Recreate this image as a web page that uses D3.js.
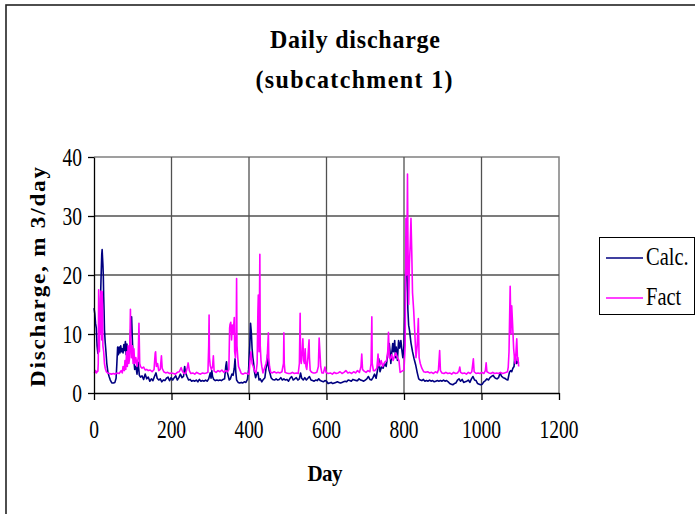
<!DOCTYPE html>
<html><head><meta charset="utf-8">
<script src="https://cdn.jsdelivr.net/npm/d3@7"></script>
<style>
body{margin:0;background:#fff}
svg{display:block}
text{font-family:"Liberation Serif","Times New Roman",serif;fill:#000}
</style>
</head><body>
<svg id="c" width="695" height="514"></svg>
<script>
const titleLines = ["Daily discharge", "(subcatchment 1)"];
const xTitle = "Day";
const yTitle = "Discharge, m 3/day";
const seriesNames = ["Calc.", "Fact"];
const seriesColors = ["#000080", "#FF00FF"];
const xTicks = [0, 200, 400, 600, 800, 1000, 1200];
const yTicks = [0, 10, 20, 30, 40];

// [day, discharge]
const calc = [[0,14.4],[2,13.5],[4,11.8],[6,11],[8,8],[10,6.7],[12,8],[14,12],[16,14],[18,19],[20,23.5],[21,24.3],[22,23],[23,21.7],[24,20],[25,16.3],[26,14],[27,10.7],[29,8.5],[31,6.9],[33,5],[36,3.5],[39,2.8],[42,2.2],[46,1.7],[50,1.7],[54,1.8],[57,2.5],[59,5],[61,7.8],[63,6.5],[65,7.8],[67,6.8],[69,8],[71,7],[73,7.5],[75,6.8],[77,8.2],[79,7.2],[81,8.7],[83,6.5],[85,8.3],[87,7],[89,6],[91,6.5],[93,8.5],[95,11],[97,12.9],[99,9],[101,6],[103,5.5],[105,4],[108,4.5],[111,3.2],[114,5.2],[117,3],[120,2.7],[124,2.9],[128,2.3],[132,3.2],[136,2.4],[140,2.7],[144,2],[148,2.4],[152,2.1],[156,2.8],[160,3.4],[163,2.5],[167,2.2],[171,2.4],[175,1.9],[179,2.2],[183,2.1],[187,2.5],[191,2.7],[195,2.1],[199,2.6],[203,2.2],[207,2.6],[211,2.9],[215,2.2],[219,2.6],[223,3.2],[227,2.6],[231,2.8],[234,4.5],[236,3.5],[240,2.8],[244,2.2],[248,2.3],[252,2],[256,2.1],[260,2],[264,2.2],[268,1.9],[272,2.3],[276,2],[280,2.1],[284,2],[288,2.2],[292,2],[296,2.4],[300,3.4],[302,2.5],[304,3.8],[306,2.8],[309,2.3],[313,2.1],[317,2.2],[321,2.1],[325,2.2],[329,2.1],[333,2.3],[337,2.4],[340,4.5],[342,5.3],[344,3.5],[346,3],[349,2.2],[352,2.4],[356,3.2],[359,3],[362,4.2],[364,5.8],[366,3.5],[368,2.2],[372,1.8],[376,1.7],[380,1.8],[384,1.7],[388,1.9],[392,1.8],[396,2.3],[399,4],[402,8],[404,11.8],[406,10.3],[408,7.5],[410,6],[412,5],[414,3.6],[417,2.6],[420,3.2],[423,3.5],[426,2.2],[429,2.4],[433,1.9],[437,2.3],[441,2.6],[444,4.2],[446,4.7],[448,6.5],[450,4.8],[452,3.8],[454,3.4],[457,2.6],[461,2.3],[466,2.2],[470,2.4],[474,2.2],[478,2.3],[482,2.6],[486,2.2],[490,2.4],[494,2.2],[498,2.3],[502,2],[506,2.5],[510,2.8],[514,2.2],[518,2.4],[522,2.6],[526,2.2],[530,2.4],[533,3.4],[536,2.5],[540,2.2],[544,2.6],[548,2.2],[552,2.5],[556,2.8],[560,2.2],[564,2.1],[568,2],[572,2.2],[576,2.1],[580,2.4],[584,2.1],[588,2],[592,1.9],[596,2.1],[600,2],[604,1.6],[608,1.7],[612,1.8],[616,1.6],[620,1.7],[624,1.8],[628,1.9],[632,1.8],[636,1.7],[640,1.8],[644,1.9],[648,2],[652,1.9],[656,2.2],[660,2.1],[664,2],[668,2.3],[672,2.2],[676,2.1],[680,2.1],[684,2.4],[688,2.2],[692,2.1],[696,2],[700,2.2],[704,2.4],[708,2.8],[712,2.3],[716,2.2],[720,2.6],[724,3.2],[728,2.5],[732,4],[735,5.8],[738,3.6],[742,4.4],[746,4.2],[750,5],[754,4.5],[757,6],[760,7.5],[762,8.4],[764,7],[766,5],[768,6.5],[771,8.4],[773,7],[776,8.9],[778,6],[780,7.8],[783,5.5],[786,8.9],[789,7.6],[792,8.9],[795,7],[797,6],[800,8],[802,13],[804,20],[806,23.1],[808,19.8],[810,14.1],[812,11.5],[814,10.7],[818,8.5],[822,7],[826,5.8],[830,4.8],[834,3.5],[838,2.4],[842,2.2],[846,2.1],[850,2.3],[854,2],[858,2.1],[862,2],[866,2.2],[870,2],[874,2.1],[878,1.9],[882,2],[886,2.1],[890,2],[894,2.1],[898,2],[902,2.2],[906,2],[910,2.1],[914,1.9],[918,1.6],[922,1.5],[926,1.4],[930,1.6],[934,1.7],[938,2.2],[942,2.4],[946,2],[950,2.3],[954,1.8],[958,1.9],[962,2],[966,2.2],[970,1.8],[974,2.4],[978,2.8],[982,2.2],[986,2.1],[990,1.6],[994,1.5],[998,1.4],[1002,1.5],[1006,1.9],[1010,2.1],[1014,2.4],[1018,2.2],[1022,2.6],[1026,2.8],[1030,3],[1033,2.7],[1036,2.5],[1040,2.4],[1044,2.6],[1048,3.4],[1052,2.8],[1056,2.6],[1060,2.5],[1064,2.3],[1068,2.2],[1072,3.5],[1075,3.8],[1078,3.6],[1081,4.2],[1084,4.5],[1086,6.3],[1088,5.8],[1090,5],[1093,5.3],[1096,5]];

const fact = [[0,3.6],[2,3.5],[4,3.8],[6,3.4],[8,3.6],[10,3.7],[11,5],[12,17.5],[13,8],[14,7],[15,14.7],[16,10],[17,16],[18,17.3],[19,12],[20,9],[21,17.2],[22,15],[23,8],[25,7],[27,5],[29,4.2],[32,3.6],[35,3.4],[40,3.3],[45,3.2],[50,3.3],[55,3.2],[60,3.4],[65,3.3],[70,3.8],[73,3.4],[75,4.5],[78,3.8],[80,5.5],[82,4],[84,7],[86,4.5],[88,8],[90,5],[92,6],[94,14.2],[95,9],[97,6],[99,8],[101,5],[103,7.5],[105,5],[108,6],[111,4.5],[114,6],[116,11.8],[118,5],[120,4.5],[124,4.2],[128,4.4],[132,3.9],[136,4],[140,3.8],[145,3.9],[150,3.6],[155,4],[158,6.8],[159,7],[161,4.5],[164,5],[167,3.8],[171,4],[174,6.3],[176,4.2],[180,3.6],[185,3.4],[190,3.5],[195,3.3],[200,3.4],[205,3.3],[210,3.2],[215,3.5],[220,3.6],[225,4.3],[228,3.7],[232,3.3],[237,3.4],[240,4.1],[243,5.1],[246,3.8],[250,3.3],[255,3.4],[260,3.2],[265,3.5],[270,3.3],[275,3.2],[280,3.4],[285,3.3],[290,3.4],[294,3.5],[296,8],[297,13.2],[298,6],[300,4.6],[303,4],[306,4.5],[308,6.3],[310,3.7],[315,3.5],[320,3.8],[325,3.6],[330,3.9],[335,3.5],[340,3.8],[345,3.6],[348,4],[350,11],[351,11.6],[353,12],[355,9],[357,11.5],[359,10],[362,12.8],[363,7],[365,6],[367,10],[368,19.4],[369,8],[371,6],[373,4.5],[376,4],[380,3.3],[385,3.2],[390,3.4],[395,3.3],[400,3.2],[403,5.8],[405,7],[408,5],[411,4.5],[414,3.8],[418,3.4],[421,5],[423,14],[424,16.6],[426,7],[428,23.5],[429,8],[431,5.5],[433,4.5],[436,3.4],[440,4.2],[444,5],[447,6],[450,10.2],[451,6],[453,4.5],[456,3.5],[460,3.4],[465,3.6],[470,3.4],[475,3.5],[480,3.4],[485,3.6],[489,5],[490,10.2],[491,5],[493,3.5],[497,3.4],[502,3.3],[507,3.3],[512,3.5],[517,3.3],[522,3.4],[527,3.3],[530,5],[532,13.5],[533,6],[535,5],[537,7],[539,9.2],[541,5.5],[543,5],[545,7.5],[547,4.5],[549,4],[552,6],[555,9],[556,6],[558,3.8],[562,3.5],[566,3.4],[570,3.4],[575,3.5],[579,4.5],[581,9.3],[583,7],[585,4.5],[588,3.4],[592,3.4],[596,4.4],[599,3.5],[604,3.3],[610,3.4],[615,3.2],[620,3.5],[625,3.3],[630,3.4],[635,3.6],[640,3.3],[645,3.5],[650,3.8],[655,3.4],[660,3.5],[665,3.3],[670,3.6],[675,3.4],[680,3.8],[685,3.5],[689,4.5],[691,6.6],[693,4],[697,3.7],[702,3.5],[707,3.8],[712,3.6],[715,5],[717,12.9],[718,5],[721,3.8],[725,3.8],[730,4.2],[733,6.6],[735,4.6],[738,4.8],[741,5.5],[745,4.5],[750,5.2],[755,5.5],[758,7],[760,10.3],[762,6],[765,5.8],[768,6.5],[772,5.5],[775,6.2],[779,6.8],[783,6],[787,5.5],[790,3.5],[795,3.7],[800,3.9],[803,8],[805,29.6],[807,20],[809,37.1],[810,27.3],[812,15],[814,22],[816,25],[818,29.6],[820,24],[822,17],[825,14],[828,10],[831,6],[834,8],[837,12.6],[839,6],[842,5],[846,4.2],[851,3.6],[856,3.5],[861,3.6],[866,3.4],[871,3.5],[876,3.3],[881,3.6],[886,3.4],[889,4],[892,7.2],[894,3.8],[898,3.4],[903,3.3],[908,3.5],[913,3.3],[918,3.4],[923,3.2],[928,3.5],[933,3.3],[938,3.4],[942,3.8],[944,4.4],[946,3.5],[951,3.3],[956,3.4],[961,3.2],[966,3.5],[971,3.3],[975,3.6],[979,5.8],[981,3.6],[986,3.3],[991,3.4],[996,3.3],[1001,3.5],[1006,3.3],[1010,3.8],[1012,5.1],[1014,3.6],[1019,3.4],[1024,3.3],[1029,3.5],[1034,3.3],[1039,3.4],[1044,3.3],[1049,3.5],[1054,3.3],[1059,3.4],[1064,3.5],[1067,3.6],[1069,4.4],[1071,7],[1072,10.8],[1074,18.1],[1076,10],[1078,14.8],[1080,12],[1083,7.5],[1085,6],[1087,5],[1089,7],[1091,9.2],[1093,5.5],[1094,6],[1096,4.5]];

const svg = d3.select("#c");
const plot = {left: 94, right: 559, top: 157, bottom: 393};
const x = d3.scaleLinear().domain([0, 1200]).range([plot.left, plot.right]);
const y = d3.scaleLinear().domain([0, 40]).range([plot.bottom, plot.top]);

// stretched text helper
function stext(str, px, py, o) {
  const g = svg.append("g").attr("transform",
    `translate(${px},${py}) rotate(${o.rot || 0}) scale(${o.sx || 1},${o.sy || 1})`);
  const t = g.append("text")
    .attr("text-anchor", o.anchor || "middle")
    .attr("font-size", o.fs)
    .attr("font-weight", o.fw || "normal")
    .text(str);
  if (o.len) t.attr("textLength", o.len).attr("lengthAdjust", "spacing");
  return t;
}

// outer chart frame
svg.append("rect").attr("x", 6).attr("y", 5).attr("width", 720).attr("height", 540)
  .attr("fill", "none").attr("stroke", "#222").attr("stroke-width", 1.6);

// plot border (top/right)
svg.append("path")
  .attr("d", `M${plot.left},${plot.top}H${plot.right}V${plot.bottom}`)
  .attr("fill", "none").attr("stroke", "#808080").attr("stroke-width", 1.5);

// gridlines
const grid = svg.append("g").attr("stroke", "#505050").attr("stroke-width", 1.3);
yTicks.filter(v => v > 0 && v < 40).forEach(v =>
  grid.append("line").attr("x1", plot.left).attr("x2", plot.right).attr("y1", y(v)).attr("y2", y(v)));
xTicks.filter(v => v > 0 && v < 1200).forEach(v =>
  grid.append("line").attr("y1", plot.top).attr("y2", plot.bottom).attr("x1", x(v)).attr("x2", x(v)));

// series
const line = d3.line().x(d => x(d[0])).y(d => y(d[1]));
[calc, fact].forEach((s, i) => {
  svg.append("path").datum(s).attr("d", line)
    .attr("fill", "none").attr("stroke", seriesColors[i]).attr("stroke-width", 1.6)
    .attr("stroke-linejoin", "round");
});

// axes
const xAxis = svg.append("g").attr("transform", `translate(0,${plot.bottom})`)
  .call(d3.axisBottom(x).tickValues(xTicks).tickSize(7).tickSizeOuter(0).tickFormat(""));
const yAxis = svg.append("g").attr("transform", `translate(${plot.left},0)`)
  .call(d3.axisLeft(y).tickValues(yTicks).tickSize(6).tickSizeOuter(0).tickFormat(""));
[xAxis, yAxis].forEach(a => { a.selectAll("path,line").attr("stroke", "#000").attr("stroke-width", 1.3); });

xTicks.forEach(v => stext(String(v), x(v), 438, {fs: 19.5, sy: 1.28}));
yTicks.forEach(v => stext(String(v), 82, y(v) + 8.5, {fs: 19.5, sy: 1.28, anchor: "end"}));

// titles
stext(titleLines[0], 355, 48, {fs: 24, fw: "bold", sy: 1.05, len: 170});
stext(titleLines[1], 354, 88, {fs: 24, fw: "bold", sy: 1.05, len: 197});
stext(xTitle, 325, 481, {fs: 21, fw: "bold", sy: 1.08, len: 35});
stext(yTitle, 45, 277, {fs: 21, fw: "bold", rot: -90, sx: 1.1, len: 200});

// legend
svg.append("rect").attr("x", 599.5).attr("y", 237.5).attr("width", 95).attr("height", 77)
  .attr("fill", "#fff").attr("stroke", "#000").attr("stroke-width", 1);
const legY = [258, 298];
seriesNames.forEach((n, i) => {
  svg.append("line").attr("x1", 606).attr("x2", 643).attr("y1", legY[i]).attr("y2", legY[i])
    .attr("stroke", seriesColors[i]).attr("stroke-width", 1.5);
  stext(n, 646, legY[i] + 6.5, {fs: 20.5, sy: 1.2, anchor: "start"});
});
</script>
</body></html>
